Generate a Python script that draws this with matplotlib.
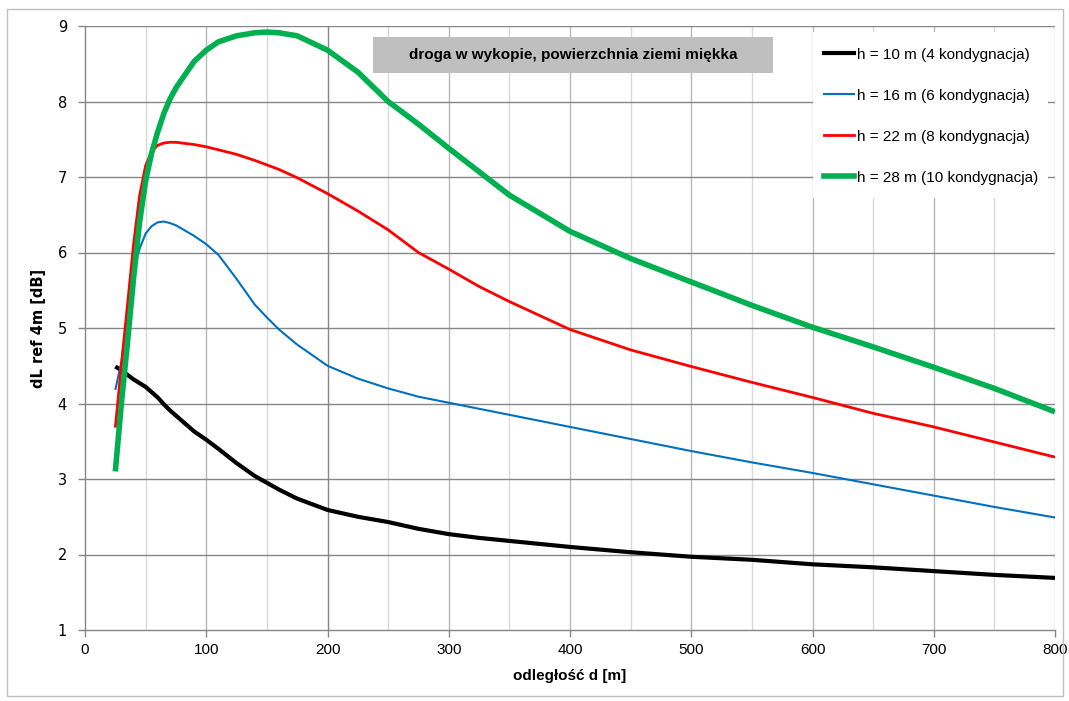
import matplotlib
matplotlib.use("Agg")
import matplotlib.pyplot as plt
from matplotlib.patches import Rectangle
from matplotlib.lines import Line2D

# ====== DATA ======
distance = [25, 30, 35, 40, 45, 50, 55, 60, 65, 70, 75, 90, 100, 110, 125, 140,
            150, 160, 175, 200, 225, 250, 275, 300, 325, 350, 400, 450, 500,
            550, 600, 650, 700, 750, 800]

h10 = [4.49, 4.44, 4.38, 4.32, 4.27, 4.22, 4.15, 4.08, 3.99, 3.91, 3.84, 3.63,
       3.52, 3.40, 3.21, 3.04, 2.95, 2.86, 2.74, 2.59, 2.50, 2.43, 2.34, 2.27,
       2.22, 2.18, 2.10, 2.03, 1.97, 1.93, 1.87, 1.83, 1.78, 1.73, 1.69]

h16 = [4.18, 4.55, 5.20, 5.75, 6.05, 6.25, 6.35, 6.40, 6.41, 6.39, 6.36, 6.22,
       6.11, 5.97, 5.65, 5.31, 5.14, 4.98, 4.78, 4.50, 4.33, 4.20, 4.09, 4.01,
       3.93, 3.85, 3.69, 3.53, 3.37, 3.22, 3.08, 2.93, 2.78, 2.63, 2.49]

h22 = [3.68, 4.50, 5.30, 6.10, 6.75, 7.15, 7.34, 7.42, 7.45, 7.46, 7.46, 7.43,
       7.40, 7.36, 7.30, 7.22, 7.16, 7.10, 6.99, 6.78, 6.55, 6.30, 6.00, 5.78,
       5.55, 5.35, 4.98, 4.71, 4.49, 4.28, 4.08, 3.87, 3.69, 3.49, 3.29]

h28 = [3.10, 4.00, 4.80, 5.65, 6.40, 6.95, 7.32, 7.60, 7.84, 8.03, 8.18, 8.53,
       8.68, 8.79, 8.87, 8.91, 8.92, 8.91, 8.87, 8.68, 8.39, 8.00, 7.70, 7.38,
       7.07, 6.76, 6.28, 5.92, 5.61, 5.30, 5.01, 4.75, 4.48, 4.20, 3.89]

labels = ["h = 10 m (4 kondygnacja)", "h = 16 m (6 kondygnacja)",
          "h = 22 m (8 kondygnacja)", "h = 28 m (10 kondygnacja)"]
colors = ["#000000", "#0070c0", "#ff0000", "#00b050"]
widths = [3.0, 1.5, 2.0, 4.0]

title_box = "droga w wykopie, powierzchnia ziemi miękka"
x_label = "odległość d [m]"
y_label = "dL ref 4m [dB]"

plt.rcParams["font.family"] = ["Liberation Sans", "DejaVu Sans"]

# ====== figure ======
fig = plt.figure(figsize=(10.69, 7.01), dpi=100)
ax = fig.add_axes([85 / 1069, 71 / 701, 970 / 1069, 604 / 701])

# outer chart border
fig.patches.append(Rectangle((7 / 1069, 5 / 701), 1056 / 1069, 687 / 701,
                             transform=fig.transFigure, fill=False,
                             edgecolor="#bfbfbf", linewidth=1))

# grid lines
for gx in range(50, 801, 50):
    if gx == 200:
        c = "#868686"
    elif gx % 100 == 0:
        c = "#b8b8b8"
    else:
        c = "#d9d9d9"
    ax.axvline(gx, color=c, linewidth=1, zorder=0)
for gy in range(2, 10):
    ax.axhline(gy, color="#868686", linewidth=1, zorder=0)

series = [h10, h16, h22, h28]
for vals, lab, col, lw in zip(series, labels, colors, widths):
    ax.plot(distance, vals, color=col, linewidth=lw, label=lab,
            solid_capstyle="butt", solid_joinstyle="round", zorder=3)

ax.set_xlim(0, 800)
ax.set_ylim(1, 9)
ax.set_xticks(range(0, 801, 100))
ax.set_yticks(range(1, 10))

for s in ["top", "right"]:
    ax.spines[s].set_visible(False)
for s in ["left", "bottom"]:
    ax.spines[s].set_color("#868686")
    ax.spines[s].set_linewidth(1)
ax.tick_params(axis="both", colors="#868686", length=5, width=1,
               labelcolor="black", labelsize=11)
ax.tick_params(axis="y", pad=8)
ax.tick_params(axis="x", pad=4)
for t in ax.get_yticklabels():
    t.set_fontfamily(["DejaVu Sans"])
    t.set_fontsize(10.5)

ax.set_xlabel(x_label, fontsize=11, fontweight="bold", labelpad=9)
ax.set_ylabel(y_label, fontsize=10.5, fontweight="bold", labelpad=8,
              family=["DejaVu Sans"])

# annotation box
ax.add_patch(Rectangle((0.297, 0.922), 0.412, 0.06, transform=ax.transAxes,
                       facecolor="#bfbfbf", edgecolor="none", zorder=4))
ax.text(0.503, 0.952, title_box, transform=ax.transAxes, ha="center",
        va="center", fontsize=11, fontweight="bold", zorder=5)

# legend
ax.add_patch(Rectangle((0.7505, 0.715), 0.242, 0.275, transform=ax.transAxes,
                       facecolor="white", edgecolor="none", zorder=4))
handles = [Line2D([], [], color=c, linewidth=w) for c, w in zip(colors, widths)]
leg = ax.legend(handles, labels, loc="upper left",
                bbox_to_anchor=(0.7619, 0.9644), frameon=False, fontsize=11,
                handlelength=1.96, handletextpad=0.2, labelspacing=1.77,
                borderpad=0, borderaxespad=0)
leg.set_zorder(6)

fig.savefig("out.png", dpi=100)
